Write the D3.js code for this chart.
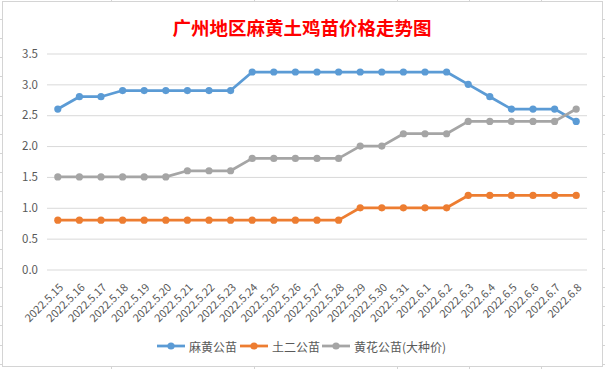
<!DOCTYPE html>
<html>
<head>
<meta charset="utf-8">
<script src="https://cdn.jsdelivr.net/npm/d3@7"></script>
<style>
  html, body { margin: 0; padding: 0; background: #ffffff; }
  svg { display: block; }
  text { font-family: "Noto Sans CJK SC", "Noto Sans", sans-serif; }
</style>
</head>
<body>
<script>
const title = "广州地区麻黄土鸡苗价格走势图";
const dates = ["2022.5.15","2022.5.16","2022.5.17","2022.5.18","2022.5.19","2022.5.20","2022.5.21","2022.5.22","2022.5.23","2022.5.24","2022.5.25","2022.5.26","2022.5.27","2022.5.28","2022.5.29","2022.5.30","2022.5.31","2022.6.1","2022.6.2","2022.6.3","2022.6.4","2022.6.5","2022.6.6","2022.6.7","2022.6.8"];
const seriesNames = ["麻黄公苗", "土二公苗", "黄花公苗(大种价)"];
const mahuang = [2.6,2.8,2.8,2.9,2.9,2.9,2.9,2.9,2.9,3.2,3.2,3.2,3.2,3.2,3.2,3.2,3.2,3.2,3.2,3.0,2.8,2.6,2.6,2.6,2.4];
const tuer    = [0.8,0.8,0.8,0.8,0.8,0.8,0.8,0.8,0.8,0.8,0.8,0.8,0.8,0.8,1.0,1.0,1.0,1.0,1.0,1.2,1.2,1.2,1.2,1.2,1.2];
const huanghua= [1.5,1.5,1.5,1.5,1.5,1.5,1.6,1.6,1.6,1.8,1.8,1.8,1.8,1.8,2.0,2.0,2.2,2.2,2.2,2.4,2.4,2.4,2.4,2.4,2.6];
const yTicks = [0,0.5,1.0,1.5,2.0,2.5,3.0,3.5];
const colors = ["#5B9BD5", "#ED7D31", "#A5A5A5"];

const W = 605, H = 369;
const svg = d3.select("body").append("svg").attr("width", W).attr("height", H);

// spreadsheet frame
const frameColor = "#d4d4d4";
svg.append("rect").attr("x", 2.5).attr("y", 1.5).attr("width", 600).attr("height", 365)
  .attr("fill", "#fff").attr("stroke", frameColor).attr("stroke-width", 1);
const rows = d3.range(0, 19).map(k => 19 + 19.15 * k).filter(y => y < 366);
svg.selectAll(".rl").data(rows).join("line")
  .attr("x1", 0).attr("x2", 2).attr("y1", d => Math.round(d) + 0.5).attr("y2", d => Math.round(d) + 0.5)
  .attr("stroke", frameColor);
svg.selectAll(".rr").data(rows).join("line")
  .attr("x1", 603).attr("x2", 605).attr("y1", d => Math.round(d) + 0.5).attr("y2", d => Math.round(d) + 0.5)
  .attr("stroke", frameColor);
const cols = [111.5, 254.5, 397.5, 469.5, 541.5];
svg.selectAll(".ct").data(cols).join("line")
  .attr("x1", d => d).attr("x2", d => d).attr("y1", 0).attr("y2", 1).attr("stroke", frameColor);
svg.selectAll(".cb").data(cols).join("line")
  .attr("x1", d => d).attr("x2", d => d).attr("y1", 367).attr("y2", 369).attr("stroke", frameColor);

// title
svg.append("text").attr("x", 302).attr("y", 27).attr("text-anchor", "middle")
  .attr("dominant-baseline", "central")
  .attr("fill", "#ff0000").attr("font-size", "18.5px").attr("font-weight", "bold")
  .text(title);

// scales
const x = d3.scalePoint().domain(dates).range([47, 587]).padding(0.5);
const y = d3.scaleLinear().domain([0, 3.5]).range([269.5, 53.5]);

// gridlines
const yAxis = d3.axisLeft(y).tickValues(yTicks).tickFormat(d3.format(".1f"))
  .tickSize(-(587 - 47)).tickPadding(9);
const gy = svg.append("g").attr("transform", "translate(47,0)").call(yAxis);
gy.select(".domain").remove();
gy.selectAll(".tick line").attr("stroke", "#d9d9d9").attr("stroke-width", 1);
gy.selectAll(".tick text").attr("fill", "#595959").attr("font-size", "11.5px")
  .attr("font-family", "\"Noto Sans CJK SC\", sans-serif");

// x axis labels
const xAxis = d3.axisBottom(x).tickSize(0).tickPadding(0);
const gx = svg.append("g").attr("transform", "translate(0,269.5)").call(xAxis);
gx.select(".domain").remove();
gx.selectAll(".tick text")
  .attr("fill", "#595959").attr("font-size", "11px")
  .attr("font-family", "\"Noto Sans CJK SC\", sans-serif")
  .attr("text-anchor", "end")
  .attr("y", 0).attr("dy", "0.35em")
  .attr("transform", "translate(3,16) rotate(-45)");

// lines
const allSeries = [mahuang, tuer, huanghua];
const line = d3.line().x((d, i) => x(dates[i])).y(d => y(d));
allSeries.forEach((vals, si) => {
  const g = svg.append("g");
  g.append("path").datum(vals).attr("d", line).attr("fill", "none")
    .attr("stroke", colors[si]).attr("stroke-width", 2.75).attr("stroke-linejoin", "round").attr("stroke-linecap", "round");
  g.selectAll("circle").data(vals).join("circle")
    .attr("cx", (d, i) => x(dates[i])).attr("cy", d => y(d)).attr("r", 3.6)
    .attr("fill", colors[si]);
});

// legend
const legendItems = [
  {x: 157, tx: 189},
  {x: 240, tx: 272},
  {x: 322, tx: 354}
];
const ly = 346;
seriesNames.forEach((name, i) => {
  const it = legendItems[i];
  const g = svg.append("g");
  g.append("line").attr("x1", it.x).attr("x2", it.x + 28).attr("y1", ly).attr("y2", ly)
    .attr("stroke", colors[i]).attr("stroke-width", 2.75);
  g.append("circle").attr("cx", it.x + 14).attr("cy", ly).attr("r", 3.6).attr("fill", colors[i]);
  g.append("text").attr("x", it.tx).attr("y", ly).attr("dominant-baseline", "central")
    .attr("fill", "#595959").attr("font-size", "12px").text(name);
});
</script>
</body>
</html>
